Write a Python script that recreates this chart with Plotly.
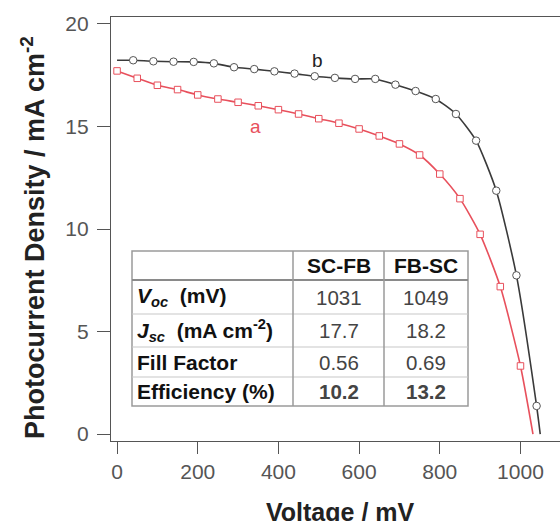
import plotly.graph_objects as go

# Curve b (FB-SC): black line, open circles
v_b = [0, 40, 90, 140, 190, 240, 290, 340, 390, 440, 490, 540, 590, 640, 690,
       740, 790, 840, 890, 940, 990, 1040, 1049]
j_b = [18.23, 18.23, 18.18, 18.16, 18.15, 18.08, 17.89, 17.80, 17.69, 17.58, 17.45,
       17.37, 17.32, 17.32, 17.04, 16.73, 16.34, 15.61, 14.31, 11.87, 7.74, 1.37, 0.0]

# Curve a (SC-FB): red line, open squares
v_a = [0, 50, 100, 150, 200, 250, 300, 350, 400, 450, 500, 550, 600, 650, 700,
       750, 800, 850, 900, 950, 1000, 1031]
j_a = [17.71, 17.35, 17.01, 16.80, 16.54, 16.34, 16.18, 16.01, 15.82, 15.61, 15.38,
       15.16, 14.88, 14.54, 14.15, 13.61, 12.68, 11.48, 9.74, 7.19, 3.32, 0.0]

# Inset table
table_header = ["", "SC-FB", "FB-SC"]
row_labels = ["<b><i>V</i><sub><i>oc</i></sub>  (mV)</b>",
              "<b><i>J</i><sub><i>sc</i></sub>  (mA cm<sup>-2</sup>)</b>",
              "<b>Fill Factor</b>",
              "<b>Efficiency (%)</b>"]
sc_fb = ["1031", "17.7", "0.56", "<b>10.2</b>"]
fb_sc = ["1049", "18.2", "0.69", "<b>13.2</b>"]

x_ticks = [0, 200, 400, 600, 800, 1000]
y_ticks = [0, 5, 10, 15, 20]

FONT = "Liberation Sans, Arial, sans-serif"
BLACK = "#3a3a3a"
RED = "#e8505c"

W, H = 560, 521
ML, MR, MT, MB = 111, 0, 17, 80
PW, PH = W - ML - MR, H - MT - MB


def px(x):
    return (x - ML) / PW


def py(y):
    return (H - MB - y) / PH


fig = go.Figure()

fig.add_trace(go.Scatter(x=v_b, y=j_b, mode="lines",
                         line=dict(color=BLACK, width=1.6, shape="spline", smoothing=0.6),
                         hoverinfo="skip", showlegend=False))
fig.add_trace(go.Scatter(x=v_b[1:-1], y=j_b[1:-1], mode="markers",
                         marker=dict(symbol="circle", size=7.5, color="white",
                                     line=dict(color="#555555", width=1)),
                         showlegend=False))
fig.add_trace(go.Scatter(x=v_a, y=j_a, mode="lines",
                         line=dict(color=RED, width=1.6, shape="spline", smoothing=0.6),
                         hoverinfo="skip", showlegend=False))
fig.add_trace(go.Scatter(x=v_a[:-1], y=j_a[:-1], mode="markers",
                         marker=dict(symbol="square", size=6.5, color="white",
                                     line=dict(color=RED, width=1)),
                         showlegend=False))

# Table geometry (pixels)
col_x = [132, 293, 384, 468]
row_y = [251, 280, 314, 347, 377, 406]
shapes = []
annotations = []
shapes.append(dict(type="rect", xref="paper", yref="paper",
                   x0=px(col_x[0]), x1=px(col_x[-1]), y0=py(row_y[-1]), y1=py(row_y[0]),
                   fillcolor="white", line=dict(color="#9a9a9a", width=1.5), layer="above"))
for i, yy in enumerate(row_y[1:-1]):
    shapes.append(dict(type="line", xref="paper", yref="paper",
                       x0=px(col_x[0]), x1=px(col_x[-1]), y0=py(yy), y1=py(yy),
                       line=dict(color="#8a8a8a" if i == 0 else "#c8c8c8",
                                 width=2.2 if i == 0 else 1.2), layer="above"))
for xx in col_x[1:-1]:
    shapes.append(dict(type="line", xref="paper", yref="paper",
                       x0=px(xx), x1=px(xx), y0=py(row_y[-1]), y1=py(row_y[0]),
                       line=dict(color="#9a9a9a", width=1.5), layer="above"))

columns = [[table_header[0]] + row_labels,
           [f"<b>{table_header[1]}</b>"] + sc_fb,
           [f"<b>{table_header[2]}</b>"] + fb_sc]
for c, col in enumerate(columns):
    for r, txt in enumerate(col):
        if not txt:
            continue
        yc = (row_y[r] + row_y[r + 1]) / 2
        if c == 0:
            annotations.append(dict(text=txt, xref="paper", yref="paper",
                                    x=px(col_x[0] + 3), y=py(yc), xanchor="left",
                                    yanchor="middle", showarrow=False,
                                    font=dict(family=FONT, size=21, color="#111111")))
        else:
            annotations.append(dict(text=txt, xref="paper", yref="paper",
                                    x=px((col_x[c] + col_x[c + 1]) / 2), y=py(yc),
                                    xanchor="center", yanchor="middle", showarrow=False,
                                    font=dict(family=FONT, size=21 if r == 0 else 20.5,
                                              color="#111111" if r == 0 else "#444444")))

annotations += [
    dict(text="<b>Photocurrent Density / mA cm<sup>-2</sup></b>", textangle=-90,
         xref="paper", yref="paper", x=px(33), y=py(238),
         xanchor="center", yanchor="middle", showarrow=False,
         font=dict(family=FONT, size=27, color="#222222")),
    dict(text="<b>Voltage / mV</b>",
         xref="paper", yref="paper", x=px(340), y=py(496),
         xanchor="center", yanchor="top", showarrow=False,
         font=dict(family=FONT, size=25, color="#222222")),
    dict(text="b", x=498, y=18.24, xref="x", yref="y", showarrow=False,
         font=dict(family=FONT, size=19, color="#222222")),
    dict(text="a", x=342, y=14.98, xref="x", yref="y", showarrow=False,
         font=dict(family=FONT, size=19, color=RED)),
]

fig.update_layout(
    width=W, height=H,
    margin=dict(l=ML, r=MR, t=MT, b=MB),
    paper_bgcolor="white", plot_bgcolor="white",
    font=dict(family=FONT),
    xaxis=dict(range=[-15, 1098], tickvals=x_ticks, ticks="outside", ticklen=12,
               tickcolor="#555555", tickwidth=1.2,
               showline=True, linecolor="#555555", linewidth=1.2, mirror=True,
               showgrid=False, zeroline=False,
               tickfont=dict(family=FONT, size=21, color="#555555")),
    yaxis=dict(range=[-0.34, 20.34], tickvals=y_ticks, ticks="outside", ticklen=13,
               tickcolor="#555555", tickwidth=1.2, ticklabelstandoff=4,
               showline=True, linecolor="#555555", linewidth=1.2, mirror=False,
               showgrid=False, zeroline=False,
               tickfont=dict(family=FONT, size=21, color="#555555")),
    shapes=shapes,
    annotations=annotations,
)

fig.write_html("out.html")
